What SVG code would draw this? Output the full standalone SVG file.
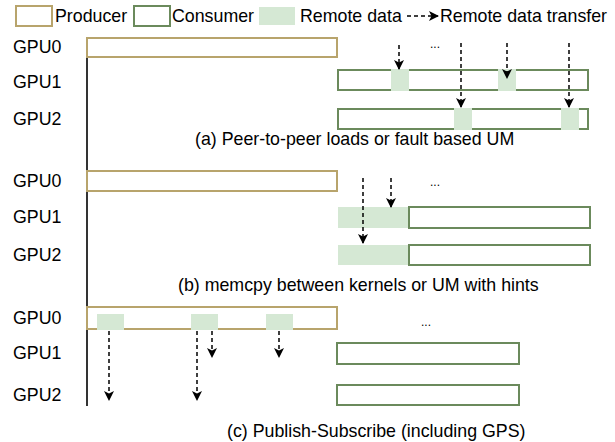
<svg xmlns="http://www.w3.org/2000/svg" width="615" height="442" viewBox="0 0 615 442">
<style>
text{font-family:"Liberation Sans",Arial,Helvetica,sans-serif;font-size:17.8px;fill:#000}
.prod{fill:#fff;stroke:#b8a46c;stroke-width:2}
.cons{fill:#fff;stroke:#6b8a5c;stroke-width:2}
.rem{fill:#d5e8d4;stroke:none}
.xfer{fill:none;stroke:#000;stroke-width:1.5;stroke-dasharray:4 3;marker-end:url(#ah)}
.axis{stroke:#000;stroke-width:1.6}
.dots{font-size:12px}
</style>
<defs>
<marker id="ah" markerUnits="userSpaceOnUse" viewBox="0 0 10 10" refX="9" refY="5" markerWidth="10" markerHeight="10" orient="auto">
<path d="M0,0 L10,5 L0,10 L2.5,5 z" fill="#000"/>
</marker>
</defs>
<rect width="615" height="442" fill="#fff"/>
<g id="legend">
<rect class="prod" x="16" y="6" width="36" height="20"/>
<text x="55" y="22">Producer</text>
<rect class="cons" x="134" y="6" width="36" height="20"/>
<text x="172" y="22">Consumer</text>
<rect class="rem" x="259" y="7" width="36" height="18"/>
<text x="300" y="22">Remote data</text>
<path class="xfer" d="M407,16 H438"/>
<text x="440" y="22">Remote data transfer</text>
</g>
<g id="axis"><line class="axis" x1="87" y1="39" x2="87" y2="406"/></g>
<g id="labels">
<text x="13" y="53">GPU0</text><text x="13" y="88">GPU1</text><text x="13" y="125">GPU2</text>
<text x="13" y="187">GPU0</text><text x="13" y="223">GPU1</text><text x="13" y="261">GPU2</text>
<text x="13" y="324">GPU0</text><text x="13" y="359">GPU1</text><text x="13" y="401">GPU2</text>
</g>
<g id="panel-a">
<g id="a-gpu0"><rect class="prod" x="87" y="38" width="250" height="19"/></g>
<g id="a-gpu1"><rect class="cons" x="338" y="70" width="250" height="20"/>
<rect class="rem" x="391" y="69" width="18" height="22"/><rect class="rem" x="498" y="69" width="18" height="22"/></g>
<g id="a-gpu2"><rect class="cons" x="338" y="109" width="250" height="20"/>
<rect class="rem" x="454" y="108" width="18" height="22"/><rect class="rem" x="561" y="108" width="18" height="22"/></g>
<text class="dots" x="430" y="48">...</text>
<text x="195" y="145">(a) Peer-to-peer loads or fault based UM</text>
</g>
<g id="panel-b">
<g id="b-gpu0"><rect class="prod" x="87" y="171" width="250" height="20"/></g>
<g id="b-gpu1"><rect class="rem" x="338" y="207" width="71" height="21"/><rect class="cons" x="409" y="207" width="181" height="21"/></g>
<g id="b-gpu2"><rect class="rem" x="338" y="245" width="71" height="20"/><rect class="cons" x="409" y="245" width="181" height="20"/></g>
<text class="dots" x="430" y="186">...</text>
<text x="178" y="291">(b) memcpy between kernels or UM with hints</text>
</g>
<g id="panel-c">
<g id="c-gpu0"><rect class="prod" x="87" y="307" width="250" height="22"/>
<rect class="rem" x="97" y="314" width="27" height="16"/><rect class="rem" x="191" y="314" width="27" height="16"/><rect class="rem" x="266" y="314" width="27" height="16"/></g>
<g id="c-gpu1"><rect class="cons" x="337" y="343" width="182" height="21"/></g>
<g id="c-gpu2"><rect class="cons" x="337" y="385" width="182" height="20"/></g>
<text class="dots" x="421" y="326">...</text>
<text x="227" y="437">(c) Publish-Subscribe (including GPS)</text>
</g>
<g id="connectors">
<path class="xfer" d="M399,45 V69"/>
<path class="xfer" d="M461,43 V107"/>
<path class="xfer" d="M507,43 V78"/>
<path class="xfer" d="M569,43 V107"/>
<path class="xfer" d="M363,178 V243"/>
<path class="xfer" d="M391,178 V207"/>
<path class="xfer" d="M109,331 V400"/>
<path class="xfer" d="M197,331 V400"/>
<path class="xfer" d="M212,331 V357"/>
<path class="xfer" d="M279,331 V357"/>
</g>
</svg>
